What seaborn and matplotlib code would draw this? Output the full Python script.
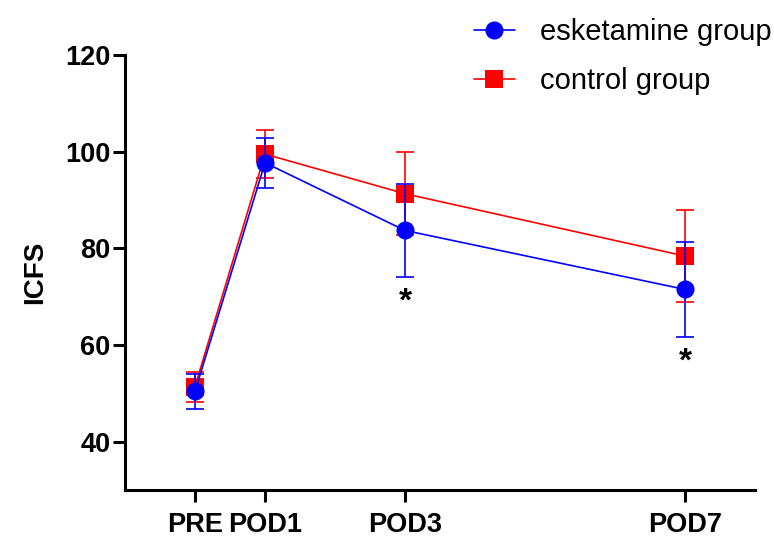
import matplotlib
matplotlib.use('Agg')
import matplotlib.pyplot as plt
import pandas as pd
import seaborn as sns

# Data (mean +/- error)
days = [0, 1, 3, 7]
day_labels = ['PRE', 'POD1', 'POD3', 'POD7']
esk_mean = [50.4, 97.7, 83.7, 71.5]
esk_err = [3.6, 5.2, 9.6, 9.8]
ctl_mean = [51.4, 99.5, 91.3, 78.4]
ctl_err = [3.1, 4.9, 8.6, 9.6]
signif_days = [3, 7]

sns.set_style('ticks')
plt.rcParams['font.family'] = ['Liberation Sans', 'DejaVu Sans']
plt.rcParams['text.color'] = 'black'
plt.rcParams['axes.labelcolor'] = 'black'
plt.rcParams['xtick.color'] = 'black'
plt.rcParams['ytick.color'] = 'black'

esk = pd.DataFrame({'day': days, 'ICFS': esk_mean})
ctl = pd.DataFrame({'day': days, 'ICFS': ctl_mean})

fig = plt.figure(figsize=(7.74, 5.38), dpi=100)
ax = fig.add_axes([125 / 774, 1 - 490 / 538, 630 / 774, 435 / 538])

# control drawn first, esketamine on top
ax.errorbar(days, ctl_mean, yerr=ctl_err, fmt='none', ecolor='#ff0000',
            elinewidth=1.2, capsize=6.5, capthick=1.2, zorder=2)
sns.lineplot(data=ctl, x='day', y='ICFS', color='#ff0000', marker='s',
             markersize=13, markeredgewidth=0, linewidth=1.2, ax=ax,
             zorder=3, label='control group')
ax.errorbar(days, esk_mean, yerr=esk_err, fmt='none', ecolor='#0000ff',
            elinewidth=1.2, capsize=6.5, capthick=1.2, zorder=4)
sns.lineplot(data=esk, x='day', y='ICFS', color='#0000ff', marker='o',
             markersize=13, markeredgewidth=0, linewidth=1.2, ax=ax,
             zorder=5, label='esketamine group')

for d in signif_days:
    i = days.index(d)
    ax.annotate('*', xy=(d, esk_mean[i] - esk_err[i]), xytext=(0, -18),
                textcoords='offset points', ha='center', va='center',
                fontsize=24, fontweight='bold', color='black')

ax.set_xlim(-1, 8)
ax.set_ylim(30, 120)
ax.set_xticks(days)
ax.set_xticklabels(day_labels)
ax.set_yticks([40, 60, 80, 100, 120])
ax.set_xlabel('')
ax.set_ylabel('ICFS', fontsize=20, fontweight='bold', labelpad=12)
for lab in ax.get_xticklabels() + ax.get_yticklabels():
    lab.set_fontweight('bold')
ax.tick_params(axis='both', labelsize=19.5, width=2.2, length=8.5)
ax.tick_params(axis='x', pad=7)
ax.tick_params(axis='y', pad=2)
for s in ['left', 'bottom']:
    ax.spines[s].set_linewidth(2.2)
    ax.spines[s].set_color('black')
sns.despine(ax=ax)

handles, labels = ax.get_legend_handles_labels()
order = [labels.index('esketamine group'), labels.index('control group')]
leg = ax.legend([handles[i] for i in order], [labels[i] for i in order],
                loc='upper left', bbox_to_anchor=(474 / 774, 1 - 18 / 538),
                bbox_transform=fig.transFigure, frameon=False, fontsize=21,
                handlelength=1.4, handletextpad=0.85, labelspacing=0.72,
                borderpad=0, borderaxespad=0)
for h in leg.legend_handles:
    h.set_markersize(13)

fig.savefig('out.png', dpi=100)
